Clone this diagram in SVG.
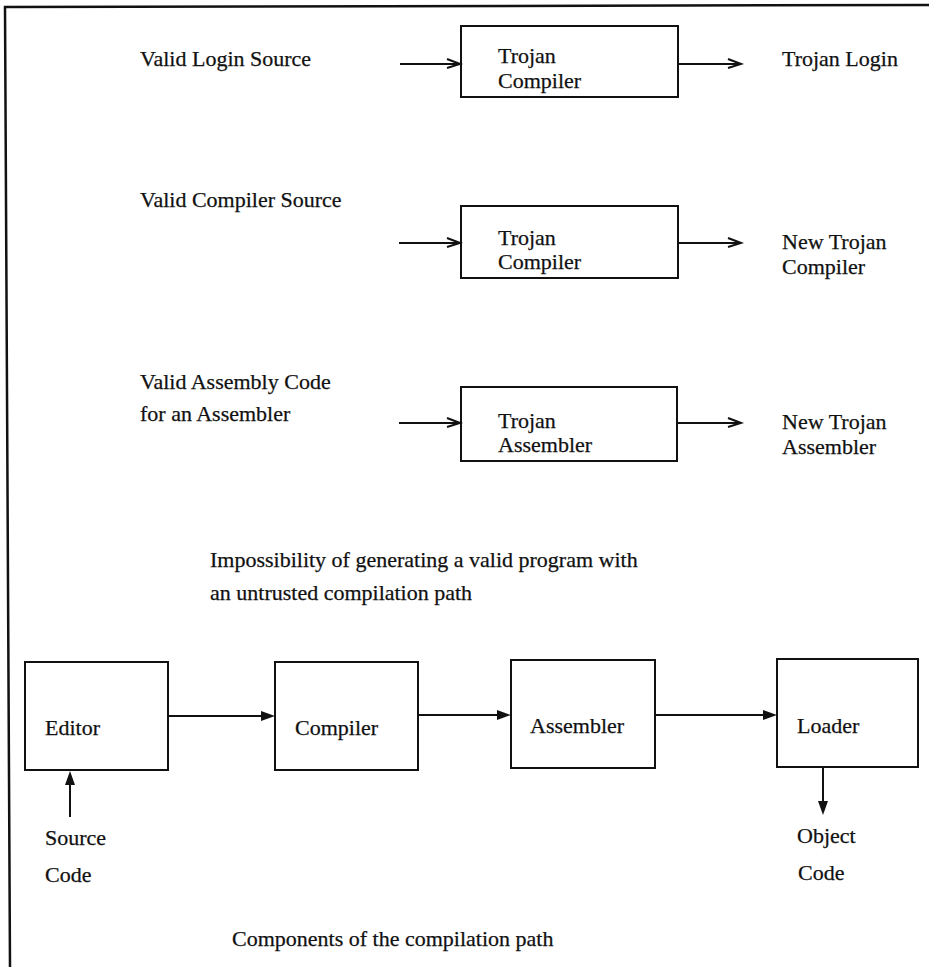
<svg xmlns="http://www.w3.org/2000/svg" width="929" height="967" viewBox="0 0 929 967">
  <style>
    text { font-family: "Liberation Serif", "Times New Roman", serif; font-size: 22px; fill: #111; stroke: #111; stroke-width: 0.25; }
    .box { fill: none; stroke: #111; stroke-width: 2; }
    .frame { fill: none; stroke: #111; stroke-width: 2.5; }
    .wire { fill: none; stroke: #111; stroke-width: 2; }
    .open { fill: none; stroke: #111; stroke-width: 2; stroke-linejoin: miter; }
    .solid { fill: #111; stroke: none; }
  </style>

  <rect width="929" height="967" fill="#fff"/>

  <!-- page frame -->
  <path class="frame" d="M10,967 L5,7 L929,5"/>

  <!-- upper figure: untrusted compilation path -->
  <g id="login-row">
    <text x="140" y="66">Valid Login Source</text>
    <g id="trojan-compiler-1">
      <rect class="box" x="461" y="26" width="217" height="71"/>
      <text x="498" y="63">Trojan</text>
      <text x="498" y="88">Compiler</text>
    </g>
    <text x="782" y="66">Trojan Login</text>
  </g>

  <g id="compiler-row">
    <text x="140" y="207">Valid Compiler Source</text>
    <g id="trojan-compiler-2">
      <rect class="box" x="461" y="206" width="217" height="72"/>
      <text x="498" y="245">Trojan</text>
      <text x="498" y="269">Compiler</text>
    </g>
    <text x="782" y="249">New Trojan</text>
    <text x="782" y="274">Compiler</text>
  </g>

  <g id="assembler-row">
    <text x="140" y="389">Valid Assembly Code</text>
    <text x="140" y="421">for an Assembler</text>
    <g id="trojan-assembler">
      <rect class="box" x="461" y="387" width="216" height="74"/>
      <text x="498" y="428">Trojan</text>
      <text x="498" y="452">Assembler</text>
    </g>
    <text x="782" y="429">New Trojan</text>
    <text x="782" y="454">Assembler</text>
  </g>

  <text x="210" y="567">Impossibility of generating a valid program with</text>
  <text x="210" y="600">an untrusted compilation path</text>

  <!-- lower figure: components of the compilation path -->
  <g id="editor">
    <rect class="box" x="25" y="662" width="143" height="108"/>
    <text x="45" y="735">Editor</text>
  </g>
  <g id="compiler">
    <rect class="box" x="275" y="662" width="143" height="108"/>
    <text x="295" y="735">Compiler</text>
  </g>
  <g id="assembler">
    <rect class="box" x="511" y="660" width="144" height="108"/>
    <text x="530" y="733">Assembler</text>
  </g>
  <g id="loader">
    <rect class="box" x="777" y="659" width="141" height="108"/>
    <text x="797" y="733">Loader</text>
  </g>
  <g id="source-code">
    <text x="45" y="845">Source</text>
    <text x="45" y="882">Code</text>
  </g>
  <g id="object-code">
    <text x="797" y="843">Object</text>
    <text x="798" y="880">Code</text>
  </g>

  <text x="232" y="946">Components of the compilation path</text>

  <g id="connectors">
    <!-- open-headed arrows, upper figure -->
    <line class="wire" x1="400" y1="64" x2="460" y2="64"/>
    <path class="open" d="M447,59 L460,64 L447,68"/>
    <line class="wire" x1="678" y1="64" x2="741" y2="64"/>
    <path class="open" d="M728,59 L741,64 L728,68"/>

    <line class="wire" x1="399" y1="243" x2="460" y2="243"/>
    <path class="open" d="M447,238 L460,243 L447,247"/>
    <line class="wire" x1="678" y1="243" x2="741" y2="243"/>
    <path class="open" d="M728,238 L741,243 L728,247"/>

    <line class="wire" x1="399" y1="423" x2="460" y2="423"/>
    <path class="open" d="M447,418 L460,423 L447,427"/>
    <line class="wire" x1="677" y1="423" x2="741" y2="423"/>
    <path class="open" d="M728,418 L741,423 L728,427"/>

    <!-- solid-headed arrows, lower figure -->
    <line class="wire" x1="168" y1="716" x2="262" y2="716"/>
    <path class="solid" d="M275,716 L261,711 L261,721 Z"/>
    <line class="wire" x1="418" y1="715" x2="498" y2="715"/>
    <path class="solid" d="M511,715 L497,710 L497,720 Z"/>
    <line class="wire" x1="655" y1="715" x2="764" y2="715"/>
    <path class="solid" d="M777,715 L763,710 L763,720 Z"/>

    <line class="wire" x1="70" y1="817" x2="70" y2="784"/>
    <path class="solid" d="M70,771 L65,785 L75,785 Z"/>
    <line class="wire" x1="823" y1="768" x2="823" y2="802"/>
    <path class="solid" d="M823,815 L818,801 L828,801 Z"/>
  </g>
</svg>
